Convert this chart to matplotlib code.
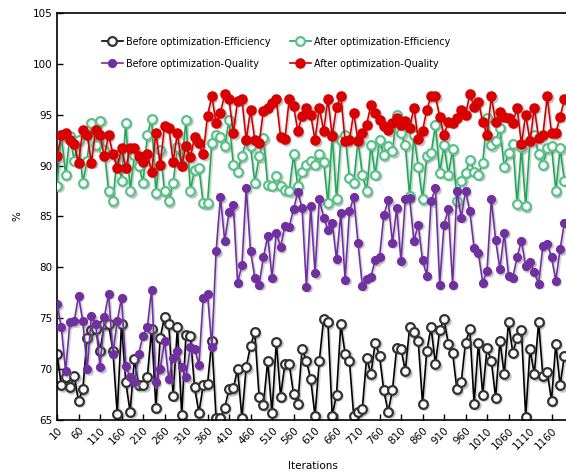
import numpy as np
import matplotlib.pyplot as plt
from matplotlib.transforms import offset_copy

iterations = np.arange(10, 1200, 10)

before_eff = [
    71.5, 68.4, 69.2, 68.2, 69.3, 66.9, 68.0, 73.1, 73.8, 73.9,
    71.8, 74.4, 74.4, 71.8, 65.6, 74.4, 68.7, 65.8, 71.0, 68.4,
    68.4, 69.2, 73.9, 66.2, 73.1, 75.1, 74.4, 67.4, 74.1, 65.5,
    73.4, 73.3, 68.2, 65.7, 68.4, 68.5, 72.8, 65.2, 65.2, 66.2,
    68.0, 68.1, 70.0, 65.2, 70.2, 72.3, 73.6, 67.3, 66.5, 70.8,
    65.7, 72.7, 67.3, 70.5, 70.5, 67.6, 66.6, 72.0, 70.8, 69.0,
    65.4, 70.8, 74.9, 74.6, 65.4, 67.5, 74.4, 71.5, 70.8, 65.4,
    65.8, 66.1, 71.1, 69.5, 72.6, 71.3, 67.9, 65.8, 67.9, 72.1,
    72.0, 69.8, 74.1, 73.6, 72.8, 66.6, 71.8, 74.1, 70.5, 73.8,
    74.9, 72.5, 71.6, 68.0, 68.7, 72.6, 73.9, 66.6, 72.6, 67.5,
    72.1, 70.8, 67.2, 72.8, 69.5, 74.6, 71.6, 73.1, 73.8, 65.3,
    72.0, 69.5, 74.6, 69.3, 69.7, 66.9, 72.5, 68.4, 71.3,
]

after_eff = [
    88.0, 93.0, 89.1, 92.9, 90.5, 92.5, 88.3, 90.5, 94.2, 92.0,
    94.4, 91.5, 87.5, 86.5, 91.0, 88.5, 94.2, 87.5, 91.0, 90.0,
    88.3, 93.0, 94.6, 87.3, 91.5, 87.5, 86.5, 88.3, 91.8, 90.1,
    94.5, 87.5, 89.6, 89.8, 86.3, 86.3, 92.2, 93.0, 92.8, 91.9,
    94.5, 90.1, 89.4, 90.9, 92.5, 91.9, 88.3, 90.9, 92.7, 88.1,
    88.0, 89.0, 88.0, 87.6, 87.5, 91.1, 88.0, 89.4, 90.1, 90.5,
    90.1, 91.1, 90.4, 86.3, 93.0, 86.7, 92.5, 93.0, 88.8, 88.3,
    92.5, 89.1, 87.5, 92.0, 89.1, 92.5, 91.0, 91.9, 91.4, 95.0,
    93.2, 92.0, 87.0, 93.0, 89.9, 86.7, 90.9, 91.2, 94.0, 89.3,
    92.0, 89.1, 91.6, 86.5, 88.5, 89.3, 90.6, 89.4, 89.1, 90.3,
    94.7, 92.0, 92.4, 93.7, 89.9, 91.2, 92.1, 86.2, 91.8, 86.0,
    92.5, 93.0, 91.1, 90.1, 91.7, 91.9, 87.5, 91.7, 88.5,
]

before_quality = [
    76.4, 74.1, 69.8, 74.6, 74.7, 77.2, 74.7, 70.0, 75.2, 74.4,
    70.2, 75.1, 77.4, 71.5, 74.7, 77.0, 70.3, 69.2, 68.7, 71.5,
    73.3, 74.1, 77.8, 68.7, 70.0, 72.8, 69.0, 71.1, 71.8, 70.2,
    69.2, 72.2, 72.0, 70.4, 77.0, 77.4, 72.2, 81.6, 86.9, 82.6,
    85.4, 86.1, 78.5, 80.2, 87.8, 81.6, 79.0, 78.3, 81.0, 83.1,
    79.0, 83.4, 82.0, 84.1, 84.0, 85.7, 87.4, 85.8, 78.1, 86.0,
    79.4, 86.7, 84.9, 83.7, 84.4, 80.8, 85.3, 78.8, 85.5, 86.9,
    82.4, 78.2, 78.9, 79.1, 80.7, 81.0, 85.1, 86.6, 82.4, 85.8,
    80.6, 86.7, 86.8, 82.6, 84.2, 80.7, 79.2, 86.5, 87.8, 78.3,
    84.2, 85.7, 78.3, 87.5, 84.9, 87.5, 85.5, 81.9, 81.4, 78.5,
    79.6, 86.7, 82.7, 79.8, 83.4, 79.2, 79.0, 81.0, 82.6, 80.1,
    80.5, 79.5, 78.4, 82.1, 82.3, 81.0, 78.7, 81.8, 84.4,
]

after_quality = [
    90.9, 93.0, 93.2, 92.5, 92.1, 90.3, 93.5, 93.0, 90.3, 93.5,
    93.0, 90.9, 93.0, 91.1, 89.8, 91.7, 89.8, 91.7, 91.7, 90.9,
    90.4, 91.1, 89.4, 93.2, 90.1, 93.9, 93.7, 90.4, 93.2, 90.0,
    91.9, 90.8, 92.8, 92.2, 91.1, 94.9, 96.8, 94.2, 95.2, 97.0,
    96.5, 93.2, 96.4, 96.5, 92.5, 95.5, 92.5, 92.2, 95.4, 95.7,
    96.2, 96.5, 92.8, 92.6, 96.5, 95.9, 93.4, 94.9, 95.7, 95.0,
    92.5, 95.7, 93.4, 96.5, 92.9, 95.8, 96.8, 92.4, 92.5, 95.2,
    92.4, 93.2, 94.0, 96.0, 95.2, 94.5, 93.9, 93.5, 94.2, 94.7,
    94.0, 94.4, 93.7, 95.7, 92.6, 93.4, 95.5, 96.8, 96.8, 94.8,
    93.0, 94.3, 94.2, 94.7, 95.5, 95.0, 97.0, 95.8, 96.3, 94.3,
    93.0, 96.8, 94.3, 95.3, 94.8, 94.7, 94.2, 95.7, 92.1, 95.0,
    92.4, 95.7, 92.7, 93.0, 96.8, 93.2, 93.2, 94.8, 96.5,
]

xtick_labels = list(range(10, 1200, 50))


def draw_series(ax, y, color, face, edge, ms, label, z):
    # grey copy shifted a little to the lower right, as a drop shadow
    shadow = offset_copy(ax.transData, fig=ax.figure, x=1.5, y=-1.5, units='dots')
    ax.plot(iterations, y, color='#888888', alpha=0.35, lw=1.3, marker='o',
            ms=ms, mfc='#888888', mec='#888888', mew=1.6,
            transform=shadow, zorder=z - 0.5)
    line, = ax.plot(iterations, y, color=color, lw=1.2, marker='o', ms=ms,
                    mfc=face, mec=edge, mew=1.6, label=label, zorder=z)
    return line


fig = plt.figure(figsize=(5.66, 4.72), dpi=100)
ax = fig.add_axes([57 / 566, 1 - 420 / 472, 511.7 / 566, 407 / 472])

h1 = draw_series(ax, before_eff, 'black', 'white', '#333333', 6.3,
                 'Before optimization-Efficiency', 2)
h2 = draw_series(ax, after_eff, '#1faa58', 'white', '#58c288', 6.3,
                 'After optimization-Efficiency', 3)
h3 = draw_series(ax, before_quality, '#7030a0', '#7030a0', '#7030a0', 5.0,
                 'Before optimization-Quality', 4)
h4 = draw_series(ax, after_quality, '#cc0000', '#d80000', '#d80000', 6.0,
                 'After optimization-Quality', 5)

ax.set_xlim(10, 1200)
ax.set_ylim(65, 105)
ax.set_yticks(range(65, 106, 5))
ax.set_xticks(xtick_labels)
ax.set_xticklabels([str(v) for v in xtick_labels], rotation=45, ha='right',
                   rotation_mode='anchor')
ax.tick_params(direction='in', length=4, labelsize=7.5, width=1)
ax.tick_params(axis='x', pad=4)
for s in ax.spines.values():
    s.set_linewidth(1.2)

ax.set_xlabel('Iterations', fontsize=7.5, labelpad=7)
ax.set_ylabel('%', fontsize=7.5, labelpad=7)

fig.legend(handles=[h1, h3, h2, h4], ncol=2, loc='upper left',
           bbox_to_anchor=(97 / 566, 1 - 32 / 472), frameon=False,
           fontsize=6.9, handlelength=2.2, handletextpad=0.3,
           columnspacing=2.0, labelspacing=1.25, borderpad=0)

fig.savefig('out.png', dpi=100)
